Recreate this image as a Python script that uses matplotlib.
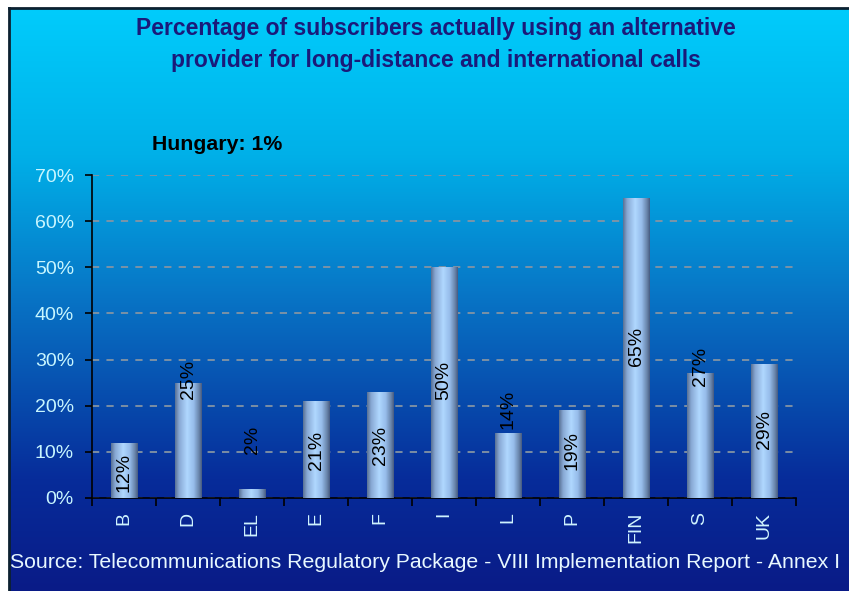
import numpy as np
import matplotlib
matplotlib.use("Agg")
import matplotlib.pyplot as plt
from matplotlib.colors import LinearSegmentedColormap
from matplotlib.ticker import FuncFormatter, MultipleLocator

countries = ["B", "D", "EL", "E", "F", "I", "L", "P", "FIN", "S", "UK"]
share = [12, 25, 2, 21, 23, 50, 14, 19, 65, 27, 29]
hungary = 1

# where each value label sits (centre, in % units), as hand-placed in the original sheet
label_pos = [5.6, 25.8, 12.6, 10.4, 11.3, 25.4, 19.3, 10.2, 32.8, 28.6, 14.8]

plt.rcParams["font.family"] = ["Liberation Sans", "DejaVu Sans"]

W, H = 849, 591
fig = plt.figure(figsize=(W / 100, H / 100), dpi=100, facecolor="white")

# background panel with vertical gradient
bg = fig.add_axes([9 / W, -0.01, (W - 9) / W + 0.02, (H - 8) / H + 0.01])
bg_cmap = LinearSegmentedColormap.from_list(
    "bg", [(0.0, "#0a1a86"), (0.2, "#062c9a"), (0.5, "#0872c4"),
           (0.75, "#00b0e8"), (1.0, "#00ccfc")])
grad = np.linspace(0, 1, 256).reshape(-1, 1)
bg.imshow(grad, cmap=bg_cmap, aspect="auto", origin="lower", extent=[0, 1, 0, 1])
bg.set_xlim(0, 1)
bg.set_ylim(0, 1)
bg.set_xticks([])
bg.set_yticks([])
for side in ["right", "bottom"]:
    bg.spines[side].set_visible(False)
for side in ["top", "left"]:
    bg.spines[side].set_color("#0c2030")
    bg.spines[side].set_linewidth(2)

ax = fig.add_axes([92 / W, 1 - 498 / H, (796 - 92) / W, (498 - 175) / H])
ax.patch.set_alpha(0)

x = np.arange(len(countries))
bars = ax.bar(x, share, width=0.41, color="none", edgecolor="none", zorder=3)

# cylinder shading across each bar
bar_cmap = LinearSegmentedColormap.from_list(
    "bar", [(0.0, "#5a7296"), (0.15, "#88a8d4"), (0.45, "#b0d8ff"),
            (0.7, "#96bcea"), (0.9, "#6884aa"), (1.0, "#485c82")])
shade = np.linspace(0, 1, 64).reshape(1, -1)
for b in bars:
    x0, y0 = b.get_x(), b.get_y()
    w, h = b.get_width(), b.get_height()
    im = ax.imshow(shade, cmap=bar_cmap, aspect="auto",
                   extent=[x0, x0 + w, y0, y0 + h], zorder=3)
    im.set_clip_path(b)

for i in range(len(countries)):
    ax.text(x[i], label_pos[i], str(share[i]) + "%", rotation=90,
            ha="center", va="center", fontsize=14, color="black", zorder=5)

ax.set_xlim(-0.5, len(countries) - 0.5)
ax.set_ylim(0, 70)
ax.yaxis.set_major_locator(MultipleLocator(10))
ax.yaxis.set_major_formatter(FuncFormatter(lambda v, p: "%d%%" % v))
ax.grid(axis="y", color="#8494a4", linestyle=(0, (4, 4)), linewidth=1.3, zorder=1)

ax.set_xticks(x)
ax.set_xticklabels(countries, rotation=90)
ax.set_xticks(np.arange(-0.5, len(countries)), minor=True)
ax.tick_params(axis="x", which="major", length=0, pad=10, labelsize=14, colors="#d0f4ff")
ax.tick_params(axis="x", which="minor", length=6, width=1.2, color="black")
ax.tick_params(axis="y", length=5, width=1.2, color="black", labelsize=14,
               labelcolor="#c8f6ff", pad=8)

for side in ["top", "right"]:
    ax.spines[side].set_visible(False)
for side in ["left", "bottom"]:
    ax.spines[side].set_color("black")
    ax.spines[side].set_linewidth(1.2)

fig.text(436 / W, 1 - 45 / H,
         "Percentage of subscribers actually using an alternative\n"
         "provider for long-distance and international calls",
         ha="center", va="center", fontsize=16.5, fontweight="bold",
         color="#1a1a7a", linespacing=1.5)
fig.text(152 / W, 1 - 145 / H, "Hungary: %d%%" % hungary, ha="left", va="center",
         fontsize=15.3, fontweight="bold", color="black")
fig.text(10 / W, 1 - 563 / H,
         "Source: Telecommunications Regulatory Package - VIII Implementation Report - Annex I",
         ha="left", va="center", fontsize=15.35, color="#e8f8ff")

fig.savefig("out.png", dpi=100, facecolor="white")
